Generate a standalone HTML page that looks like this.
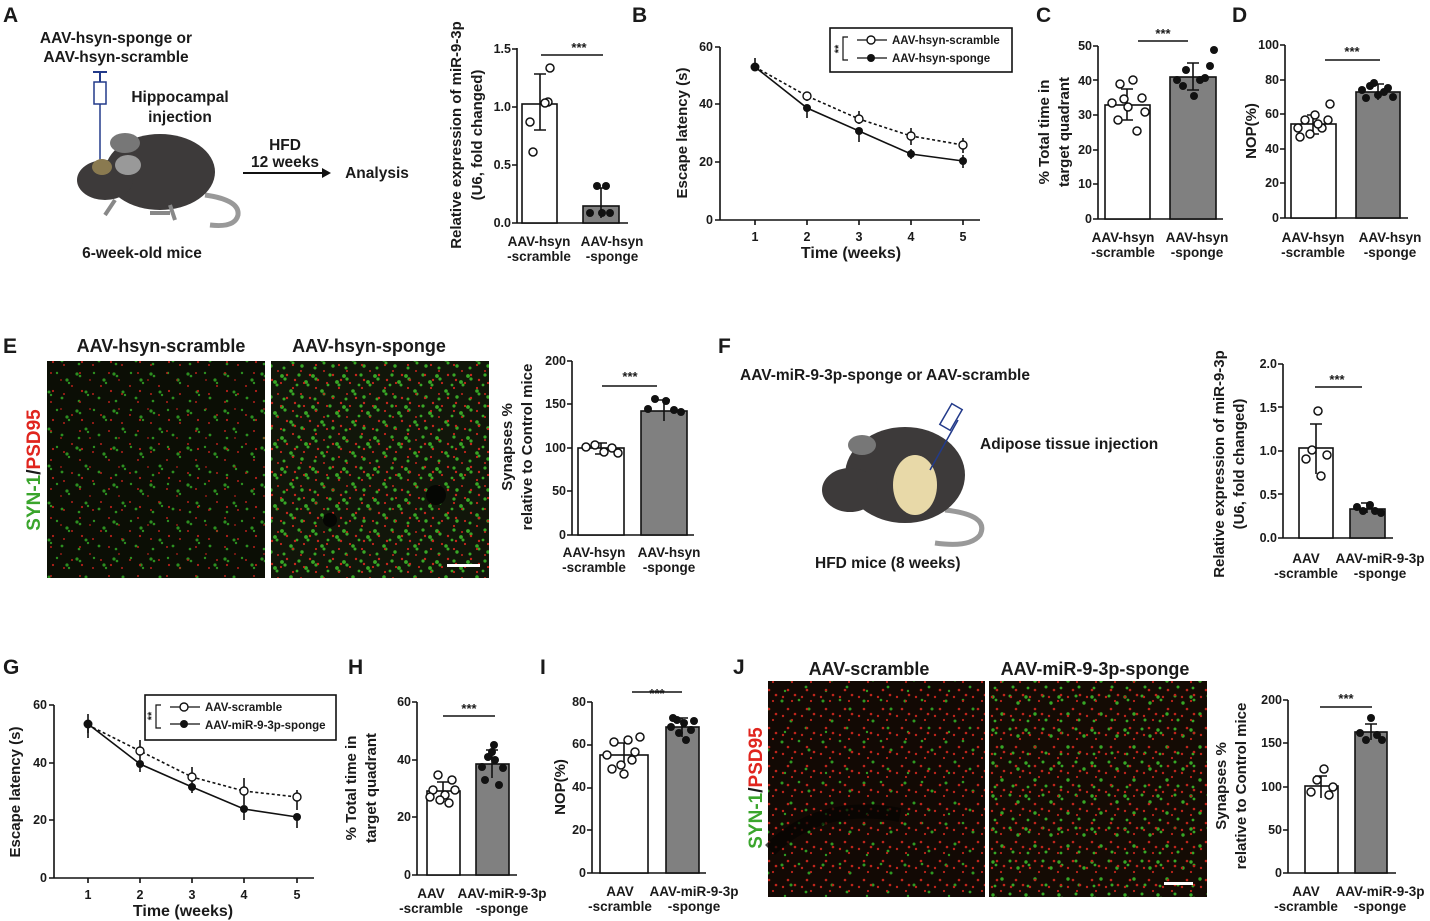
<!DOCTYPE html><html><head><style>body{margin:0;background:#fff}svg{display:block}text{font-family:"Liberation Sans",Arial,sans-serif;font-weight:bold;fill:#1a1a1a}</style></head><body>
<svg width="1430" height="921" viewBox="0 0 1430 921" xmlns="http://www.w3.org/2000/svg">
<defs>
<pattern id="g1" width="37" height="37" patternUnits="userSpaceOnUse">
<g fill="#2c8f20"><circle cx="3" cy="4" r="1.6"/><circle cx="6" cy="6" r="1.3"/><circle cx="20" cy="3" r="1.2"/><circle cx="30" cy="10" r="1.6"/><circle cx="32" cy="13" r="1.2"/><circle cx="12" cy="22" r="1.5"/><circle cx="14" cy="25" r="1.2"/><circle cx="25" cy="28" r="1.4"/><circle cx="5" cy="31" r="1.3"/></g>
</pattern>
<pattern id="r1" width="29" height="29" patternUnits="userSpaceOnUse">
<g fill="#b52019"><circle cx="14" cy="9" r="1"/><circle cx="24" cy="14" r="1.1"/><circle cx="6" cy="17" r="1"/><circle cx="22" cy="25" r="1"/><circle cx="3" cy="3" r="0.9"/></g>
</pattern>
<pattern id="g2" width="31" height="31" patternUnits="userSpaceOnUse">
<g fill="#38a826"><circle cx="3" cy="4" r="1.9"/><circle cx="6" cy="7" r="1.6"/><circle cx="20" cy="3" r="1.6"/><circle cx="27" cy="10" r="1.9"/><circle cx="29" cy="13" r="1.5"/><circle cx="12" cy="19" r="1.8"/><circle cx="14" cy="22" r="1.5"/><circle cx="23" cy="25" r="1.7"/><circle cx="5" cy="27" r="1.5"/><circle cx="18" cy="13" r="1.4"/></g>
</pattern>
<pattern id="r2" width="23" height="23" patternUnits="userSpaceOnUse">
<g fill="#c8261c"><circle cx="11" cy="7" r="1.2"/><circle cx="19" cy="12" r="1.2"/><circle cx="5" cy="15" r="1.1"/><circle cx="17" cy="20" r="1.1"/><circle cx="2" cy="3" r="1"/></g>
</pattern>
<pattern id="r3" width="19" height="19" patternUnits="userSpaceOnUse">
<g fill="#c0251b"><circle cx="9" cy="6" r="1.3"/><circle cx="16" cy="11" r="1.3"/><circle cx="4" cy="13" r="1.2"/><circle cx="13" cy="17" r="1.1"/></g>
</pattern>
<pattern id="g3" width="41" height="41" patternUnits="userSpaceOnUse">
<g fill="#2e9a22"><circle cx="3" cy="4" r="1.5"/><circle cx="20" cy="3" r="1.3"/><circle cx="30" cy="12" r="1.5"/><circle cx="12" cy="24" r="1.5"/><circle cx="27" cy="31" r="1.4"/><circle cx="6" cy="35" r="1.2"/></g>
</pattern>
<pattern id="g4" width="33" height="33" patternUnits="userSpaceOnUse">
<g fill="#36a826"><circle cx="3" cy="4" r="1.7"/><circle cx="6" cy="7" r="1.4"/><circle cx="20" cy="3" r="1.5"/><circle cx="28" cy="10" r="1.7"/><circle cx="12" cy="21" r="1.7"/><circle cx="23" cy="27" r="1.5"/><circle cx="5" cy="28" r="1.4"/></g>
</pattern>
</defs>

<g font-size="21"><text x="3" y="22">A</text><text x="632" y="22">B</text><text x="1036" y="22">C</text><text x="1232" y="22">D</text><text x="3" y="353">E</text><text x="718" y="353">F</text><text x="3" y="674">G</text><text x="348" y="674">H</text><text x="540" y="674">I</text><text x="733" y="674">J</text></g>

<!-- A schematic -->
<g font-size="15.5" text-anchor="middle"><text x="116" y="43">AAV-hsyn-sponge or</text><text x="116" y="62">AAV-hsyn-scramble</text><text x="180" y="102">Hippocampal</text><text x="180" y="122">injection</text><text x="285" y="150">HFD</text><text x="285" y="167">12 weeks</text><text x="377" y="178">Analysis</text><text x="142" y="258">6-week-old mice</text></g>
<line x1="243" y1="173" x2="324" y2="173" stroke="#111" stroke-width="2"/><path d="M322 168 L331 173 L322 178Z" fill="#111"/>
<g>
<line x1="100" y1="100" x2="100" y2="160" stroke="#223a8a" stroke-width="1.5"/>
<rect x="94" y="82" width="12" height="22" fill="#fff" stroke="#223a8a" stroke-width="1.5"/><line x1="100" y1="72" x2="100" y2="82" stroke="#223a8a" stroke-width="2"/><line x1="93" y1="72" x2="107" y2="72" stroke="#223a8a" stroke-width="2"/>
<path d="M205 195 Q240 200 238 215 Q235 228 210 225" fill="none" stroke="#999" stroke-width="5"/>
<ellipse cx="160" cy="172" rx="55" ry="38" fill="#3d3a3a"/>
<ellipse cx="105" cy="180" rx="28" ry="20" fill="#3d3a3a"/>
<ellipse cx="125" cy="143" rx="15" ry="10" fill="#777"/>
<ellipse cx="128" cy="165" rx="13" ry="10" fill="#999"/>
<ellipse cx="102" cy="167" rx="10" ry="8" fill="#8a7a50"/>
<path d="M115 200 l-10 15 M170 205 l5 15 M150 213 l20 0" stroke="#888" stroke-width="4"/>
</g>

<!-- A chart -->
<g font-size="12.5" text-anchor="end"><text x="511" y="227">0.0</text><text x="511" y="169">0.5</text><text x="511" y="111">1.0</text><text x="511" y="53">1.5</text></g>
<g stroke="#111" stroke-width="1.6" fill="none">
<path d="M517 48V223H628M512 223H517M512 165H517M512 107H517M512 49H517"/>
<rect x="522" y="104" width="35" height="119" fill="#fff"/><rect x="583" y="206" width="36" height="17" fill="#808080"/>
<path d="M540 74V130M534 74H546M534 130H546M601 188V218M595 188H607"/>
<path d="M541 55H603"/></g>
<g fill="#fff" stroke="#111" stroke-width="1.5"><circle cx="530" cy="122" r="4"/><circle cx="548" cy="102" r="4"/><circle cx="550" cy="68" r="4"/><circle cx="533" cy="152" r="4"/><circle cx="545" cy="103" r="4"/></g>
<g fill="#111"><circle cx="590" cy="213" r="4"/><circle cx="597" cy="186" r="4"/><circle cx="606" cy="186" r="4"/><circle cx="610" cy="213" r="4"/><circle cx="602" cy="213" r="4"/></g>
<text x="579" y="52" font-size="13" text-anchor="middle">***</text>
<g font-size="13.5" text-anchor="middle"><text x="539" y="246">AAV-hsyn</text><text x="539" y="261">-scramble</text><text x="612" y="246">AAV-hsyn</text><text x="612" y="261">-sponge</text></g>
<text transform="translate(461,135) rotate(-90)" font-size="15" text-anchor="middle">Relative expression of miR-9-3p</text>
<text transform="translate(482,135) rotate(-90)" font-size="15" text-anchor="middle">(U6, fold changed)</text>

<!-- B chart -->
<g font-size="12.5" text-anchor="end"><text x="713" y="224">0</text><text x="713" y="166">20</text><text x="713" y="108">40</text><text x="713" y="51">60</text></g>
<g font-size="12.5" text-anchor="middle"><text x="755" y="241">1</text><text x="807" y="241">2</text><text x="859" y="241">3</text><text x="911" y="241">4</text><text x="963" y="241">5</text></g>
<text x="851" y="258" font-size="16" text-anchor="middle">Time (weeks)</text>
<text transform="translate(687,133) rotate(-90)" font-size="15" text-anchor="middle">Escape latency (s)</text>
<g stroke="#111" stroke-width="1.6" fill="none">
<path d="M720 47V220H980M715 220H720M715 162H720M715 104H720M715 47H720M755 220V225M807 220V225M859 220V225M911 220V225M963 220V225"/>
<path d="M755 67V58M807 101V93M859 124V111M911 145V128M963 153V138"/>
<path d="M807 106V118M859 132V142M911 149V159M963 155V168"/>
<path d="M755 67L807 96L859 119L911 136L963 145" stroke-dasharray="3,2.5"/>
<path d="M755 67L807 108L859 131L911 154L963 161"/>
<rect x="830" y="28" width="182" height="44"/>
<path d="M848 37H843V60H848M857 40H887M857 58H887" stroke-width="1.2"/>
</g>
<g fill="#fff" stroke="#111" stroke-width="1.4"><circle cx="807" cy="96" r="4"/><circle cx="859" cy="119" r="4"/><circle cx="911" cy="136" r="4"/><circle cx="963" cy="145" r="4"/><circle cx="871" cy="40" r="4"/></g>
<g fill="#111"><circle cx="755" cy="67" r="4.5"/><circle cx="807" cy="108" r="4"/><circle cx="859" cy="131" r="4"/><circle cx="911" cy="154" r="4"/><circle cx="963" cy="161" r="4"/><circle cx="871" cy="58" r="4"/></g>
<text transform="translate(842,49) rotate(-90)" font-size="11" text-anchor="middle">**</text>
<g font-size="11.5"><text x="892" y="44">AAV-hsyn-scramble</text><text x="892" y="62">AAV-hsyn-sponge</text></g>

<!-- C chart -->
<g font-size="12.5" text-anchor="end"><text x="1092" y="223">0</text><text x="1092" y="188">10</text><text x="1092" y="154">20</text><text x="1092" y="119">30</text><text x="1092" y="85">40</text><text x="1092" y="50">50</text></g>
<g stroke="#111" stroke-width="1.6" fill="none">
<path d="M1098 46V219H1223M1093 219H1098M1093 184H1098M1093 150H1098M1093 115H1098M1093 80H1098M1093 46H1098"/>
<rect x="1105" y="105" width="45" height="114" fill="#fff"/><rect x="1170" y="77" width="46" height="142" fill="#808080"/>
<path d="M1127 89V120M1121 89H1133M1121 120H1133M1193 63V90M1187 63H1199M1187 90H1199M1138 41H1188"/></g>
<g fill="#fff" stroke="#111" stroke-width="1.5"><circle cx="1112" cy="103" r="4"/><circle cx="1120" cy="84" r="4"/><circle cx="1133" cy="80" r="4"/><circle cx="1142" cy="98" r="4"/><circle cx="1128" cy="107" r="4"/><circle cx="1118" cy="120" r="4"/><circle cx="1137" cy="131" r="4"/><circle cx="1145" cy="112" r="4"/><circle cx="1124" cy="99" r="4"/></g>
<g fill="#111"><circle cx="1177" cy="80" r="4"/><circle cx="1186" cy="70" r="4"/><circle cx="1200" cy="80" r="4"/><circle cx="1210" cy="66" r="4"/><circle cx="1194" cy="96" r="4"/><circle cx="1183" cy="86" r="4"/><circle cx="1205" cy="78" r="4"/><circle cx="1214" cy="50" r="4"/></g>
<text x="1163" y="38" font-size="13" text-anchor="middle">***</text>
<g font-size="13.5" text-anchor="middle"><text x="1123" y="242">AAV-hsyn</text><text x="1123" y="257">-scramble</text><text x="1197" y="242">AAV-hsyn</text><text x="1197" y="257">-sponge</text></g>
<text transform="translate(1049,132) rotate(-90)" font-size="15" text-anchor="middle">% Total time in</text>
<text transform="translate(1069,132) rotate(-90)" font-size="15" text-anchor="middle">target quadrant</text>

<!-- D chart -->
<g font-size="12.5" text-anchor="end"><text x="1279" y="222">0</text><text x="1279" y="187">20</text><text x="1279" y="153">40</text><text x="1279" y="118">60</text><text x="1279" y="84">80</text><text x="1279" y="49">100</text></g>
<g stroke="#111" stroke-width="1.6" fill="none">
<path d="M1285 45V218H1408M1280 218H1285M1280 183H1285M1280 149H1285M1280 114H1285M1280 80H1285M1280 45H1285"/>
<rect x="1291" y="124" width="45" height="94" fill="#fff"/><rect x="1356" y="92" width="44" height="126" fill="#808080"/>
<path d="M1313 115V134M1307 115H1319M1307 134H1319M1378 84V100M1372 84H1384M1325 60H1380"/></g>
<g fill="#fff" stroke="#111" stroke-width="1.5"><circle cx="1298" cy="128" r="4"/><circle cx="1305" cy="120" r="4"/><circle cx="1315" cy="115" r="4"/><circle cx="1330" cy="104" r="4"/><circle cx="1322" cy="128" r="4"/><circle cx="1310" cy="134" r="4"/><circle cx="1300" cy="137" r="4"/><circle cx="1328" cy="120" r="4"/><circle cx="1318" cy="124" r="4"/></g>
<g fill="#111"><circle cx="1362" cy="90" r="4"/><circle cx="1370" cy="86" r="4"/><circle cx="1378" cy="95" r="4"/><circle cx="1388" cy="88" r="4"/><circle cx="1393" cy="97" r="4"/><circle cx="1384" cy="92" r="4"/><circle cx="1374" cy="83" r="4"/><circle cx="1366" cy="98" r="4"/></g>
<text x="1352" y="56" font-size="13" text-anchor="middle">***</text>
<g font-size="13.5" text-anchor="middle"><text x="1313" y="242">AAV-hsyn</text><text x="1313" y="257">-scramble</text><text x="1390" y="242">AAV-hsyn</text><text x="1390" y="257">-sponge</text></g>
<text transform="translate(1256,131) rotate(-90)" font-size="15" text-anchor="middle">NOP(%)</text>

<!-- E -->
<g font-size="18" text-anchor="middle"><text x="161" y="352">AAV-hsyn-scramble</text><text x="369" y="352">AAV-hsyn-sponge</text></g>
<rect x="47" y="361" width="218" height="217" fill="#0b0e05"/>
<rect x="47" y="361" width="218" height="217" fill="url(#g1)"/>
<rect x="47" y="361" width="218" height="217" fill="url(#r1)"/>
<rect x="271" y="361" width="218" height="217" fill="#11160a"/>
<rect x="271" y="361" width="218" height="217" fill="url(#g2)"/>
<rect x="271" y="361" width="218" height="217" fill="url(#r2)"/>
<circle cx="436" cy="495" r="10" fill="#050603"/><circle cx="330" cy="520" r="7" fill="#050603"/>
<rect x="447" y="564" width="33" height="3" fill="#fff"/>
<text transform="translate(40,470) rotate(-90)" font-size="19" text-anchor="middle"><tspan style="fill:#3aa52c">SYN-1</tspan><tspan>/</tspan><tspan style="fill:#e0251e">PSD95</tspan></text>
<g font-size="12.5" text-anchor="end"><text x="566" y="539">0</text><text x="566" y="495">50</text><text x="566" y="452">100</text><text x="566" y="408">150</text><text x="566" y="365">200</text></g>
<g stroke="#111" stroke-width="1.6" fill="none">
<path d="M572 361V535H694M567 535H572M567 491H572M567 448H572M567 404H572M567 361H572"/>
<rect x="578" y="448" width="46" height="87" fill="#fff"/><rect x="641" y="411" width="46" height="124" fill="#808080"/>
<path d="M601 443V454M595 443H607M595 454H607M664 400V421M658 400H670M602 386H657"/></g>
<g fill="#fff" stroke="#111" stroke-width="1.5"><circle cx="586" cy="447" r="4"/><circle cx="595" cy="445" r="4"/><circle cx="604" cy="452" r="4"/><circle cx="612" cy="448" r="4"/><circle cx="618" cy="453" r="4"/></g>
<g fill="#111"><circle cx="648" cy="409" r="4"/><circle cx="655" cy="399" r="4"/><circle cx="666" cy="401" r="4"/><circle cx="674" cy="410" r="4"/><circle cx="681" cy="412" r="4"/></g>
<text x="630" y="381" font-size="13" text-anchor="middle">***</text>
<g font-size="13.5" text-anchor="middle"><text x="594" y="557">AAV-hsyn</text><text x="594" y="572">-scramble</text><text x="669" y="557">AAV-hsyn</text><text x="669" y="572">-sponge</text></g>
<text transform="translate(512,447) rotate(-90)" font-size="15" text-anchor="middle">Synapses %</text>
<text transform="translate(532,447) rotate(-90)" font-size="15" text-anchor="middle">relative to Control mice</text>

<!-- F schematic -->
<text x="740" y="380" font-size="15.5">AAV-miR-9-3p-sponge or AAV-scramble</text>
<text x="980" y="449" font-size="15.5">Adipose tissue injection</text>
<text x="815" y="568" font-size="15.5">HFD mice (8 weeks)</text>
<path d="M945 510 Q990 515 980 535 Q970 548 935 543" fill="none" stroke="#999" stroke-width="5"/>
<ellipse cx="905" cy="475" rx="60" ry="48" fill="#3d3a3a"/>
<ellipse cx="850" cy="490" rx="28" ry="22" fill="#3d3a3a"/>
<ellipse cx="862" cy="445" rx="14" ry="10" fill="#777"/>
<ellipse cx="915" cy="485" rx="22" ry="30" fill="#e8d9a8"/>
<line x1="930" y1="470" x2="958" y2="420" stroke="#223a8a" stroke-width="1.5"/>
<rect x="945" y="405" width="12" height="24" transform="rotate(30 951 417)" fill="#fff" stroke="#223a8a" stroke-width="1.5"/>
<!-- F chart -->
<g font-size="12.5" text-anchor="end"><text x="1277" y="542">0.0</text><text x="1277" y="499">0.5</text><text x="1277" y="455">1.0</text><text x="1277" y="412">1.5</text><text x="1277" y="368">2.0</text></g>
<g stroke="#111" stroke-width="1.6" fill="none">
<path d="M1283 364V538H1393M1278 538H1283M1278 494H1283M1278 451H1283M1278 407H1283M1278 364H1283"/>
<rect x="1299" y="448" width="34" height="90" fill="#fff"/><rect x="1350" y="509" width="35" height="29" fill="#808080"/>
<path d="M1316 424V474M1310 424H1322M1367 503V513M1361 503H1373M1315 387H1362"/></g>
<g fill="#fff" stroke="#111" stroke-width="1.5"><circle cx="1306" cy="459" r="4"/><circle cx="1312" cy="450" r="4"/><circle cx="1318" cy="411" r="4"/><circle cx="1321" cy="476" r="4"/><circle cx="1327" cy="455" r="4"/></g>
<g fill="#111"><circle cx="1357" cy="507" r="4"/><circle cx="1363" cy="511" r="4"/><circle cx="1370" cy="505" r="4"/><circle cx="1375" cy="511" r="4"/><circle cx="1381" cy="513" r="4"/></g>
<text x="1337" y="384" font-size="13" text-anchor="middle">***</text>
<g font-size="13.5" text-anchor="middle"><text x="1306" y="563">AAV</text><text x="1306" y="578">-scramble</text><text x="1380" y="563">AAV-miR-9-3p</text><text x="1380" y="578">-sponge</text></g>
<text transform="translate(1224,464) rotate(-90)" font-size="15" text-anchor="middle">Relative expression of miR-9-3p</text>
<text transform="translate(1244,464) rotate(-90)" font-size="15" text-anchor="middle">(U6, fold changed)</text>

<!-- G chart -->
<g font-size="12.5" text-anchor="end"><text x="47" y="882">0</text><text x="47" y="824">20</text><text x="47" y="767">40</text><text x="47" y="709">60</text></g>
<g font-size="12.5" text-anchor="middle"><text x="88" y="899">1</text><text x="140" y="899">2</text><text x="192" y="899">3</text><text x="244" y="899">4</text><text x="297" y="899">5</text></g>
<text x="183" y="916" font-size="16" text-anchor="middle">Time (weeks)</text>
<text transform="translate(20,792) rotate(-90)" font-size="15" text-anchor="middle">Escape latency (s)</text>
<g stroke="#111" stroke-width="1.6" fill="none">
<path d="M54 705V878H314M49 878H54M49 820H54M49 763H54M49 705H54M88 878V883M140 878V883M192 878V883M244 878V883M297 878V883"/>
<path d="M88 733V714M140 760V740M192 788V767M244 805V778M297 810V790"/>
<path d="M88 720V738M140 764V772M192 787V793M244 812V820M297 818V828"/>
<path d="M88 725L140 751L192 777L244 791L297 797" stroke-dasharray="3,2.5"/>
<path d="M88 724L140 764L192 787L244 809L297 817"/>
<rect x="145" y="695" width="191" height="45"/>
<path d="M161 705H156V728H161M170 707H200M170 724H200" stroke-width="1.2"/>
</g>
<g fill="#fff" stroke="#111" stroke-width="1.4"><circle cx="140" cy="751" r="4"/><circle cx="192" cy="777" r="4"/><circle cx="244" cy="791" r="4"/><circle cx="297" cy="797" r="4"/><circle cx="184" cy="707" r="4"/></g>
<g fill="#111"><circle cx="88" cy="724" r="4.5"/><circle cx="140" cy="764" r="4"/><circle cx="192" cy="787" r="4"/><circle cx="244" cy="809" r="4"/><circle cx="297" cy="817" r="4"/><circle cx="184" cy="724" r="4"/></g>
<text transform="translate(155,716) rotate(-90)" font-size="11" text-anchor="middle">**</text>
<g font-size="11.5"><text x="205" y="711">AAV-scramble</text><text x="205" y="729">AAV-miR-9-3p-sponge</text></g>

<!-- H chart -->
<g font-size="12.5" text-anchor="end"><text x="411" y="879">0</text><text x="411" y="821">20</text><text x="411" y="764">40</text><text x="411" y="706">60</text></g>
<g stroke="#111" stroke-width="1.6" fill="none">
<path d="M417 702V875H517M412 875H417M412 817H417M412 760H417M412 702H417"/>
<rect x="427" y="791" width="33" height="84" fill="#fff"/><rect x="476" y="764" width="33" height="111" fill="#808080"/>
<path d="M443 782V800M437 782H449M492 750V778M486 750H498M443 716H495"/></g>
<g fill="#fff" stroke="#111" stroke-width="1.5"><circle cx="433" cy="790" r="4"/><circle cx="438" cy="775" r="4"/><circle cx="445" cy="795" r="4"/><circle cx="452" cy="780" r="4"/><circle cx="449" cy="803" r="4"/><circle cx="440" cy="800" r="4"/><circle cx="455" cy="790" r="4"/><circle cx="430" cy="797" r="4"/></g>
<g fill="#111"><circle cx="482" cy="767" r="4"/><circle cx="488" cy="757" r="4"/><circle cx="495" cy="760" r="4"/><circle cx="503" cy="768" r="4"/><circle cx="492" cy="752" r="4"/><circle cx="499" cy="785" r="4"/><circle cx="485" cy="780" r="4"/><circle cx="494" cy="745" r="4"/></g>
<text x="469" y="713" font-size="13" text-anchor="middle">***</text>
<g font-size="13.5" text-anchor="middle"><text x="431" y="898">AAV</text><text x="431" y="913">-scramble</text><text x="502" y="898">AAV-miR-9-3p</text><text x="502" y="913">-sponge</text></g>
<text transform="translate(356,788) rotate(-90)" font-size="15" text-anchor="middle">% Total time in</text>
<text transform="translate(376,788) rotate(-90)" font-size="15" text-anchor="middle">target quadrant</text>

<!-- I chart -->
<g font-size="12.5" text-anchor="end"><text x="586" y="877">0</text><text x="586" y="834">20</text><text x="586" y="791">40</text><text x="586" y="748">60</text><text x="586" y="706">80</text></g>
<g stroke="#111" stroke-width="1.6" fill="none">
<path d="M592 702V873H706M587 873H592M587 830H592M587 788H592M587 745H592M587 702H592"/>
<rect x="600" y="755" width="48" height="118" fill="#fff"/><rect x="666" y="727" width="33" height="146" fill="#808080"/>
<path d="M624 743V768M618 743H630M682 718V737M676 718H688M632 692H682"/></g>
<g fill="#fff" stroke="#111" stroke-width="1.5"><circle cx="607" cy="755" r="4"/><circle cx="614" cy="742" r="4"/><circle cx="621" cy="765" r="4"/><circle cx="628" cy="740" r="4"/><circle cx="635" cy="752" r="4"/><circle cx="640" cy="737" r="4"/><circle cx="624" cy="774" r="4"/><circle cx="612" cy="769" r="4"/><circle cx="632" cy="760" r="4"/></g>
<g fill="#111"><circle cx="671" cy="727" r="4"/><circle cx="677" cy="720" r="4"/><circle cx="684" cy="723" r="4"/><circle cx="691" cy="730" r="4"/><circle cx="686" cy="740" r="4"/><circle cx="679" cy="733" r="4"/><circle cx="694" cy="721" r="4"/><circle cx="673" cy="718" r="4"/></g>
<text x="657" y="698" font-size="13" text-anchor="middle">***</text>
<g font-size="13.5" text-anchor="middle"><text x="620" y="896">AAV</text><text x="620" y="911">-scramble</text><text x="694" y="896">AAV-miR-9-3p</text><text x="694" y="911">-sponge</text></g>
<text transform="translate(565,787) rotate(-90)" font-size="15" text-anchor="middle">NOP(%)</text>

<!-- J -->
<g font-size="18" text-anchor="middle"><text x="869" y="675">AAV-scramble</text><text x="1095" y="675">AAV-miR-9-3p-sponge</text></g>
<rect x="768" y="681" width="217" height="216" fill="#120904"/>
<rect x="768" y="681" width="217" height="216" fill="url(#g3)"/>
<rect x="768" y="681" width="217" height="216" fill="url(#r3)"/>
<rect x="989" y="681" width="218" height="216" fill="#140b04"/>
<rect x="989" y="681" width="218" height="216" fill="url(#g4)"/>
<rect x="989" y="681" width="218" height="216" fill="url(#r3)"/>
<path d="M770 850 Q820 800 900 815" stroke="#060402" stroke-width="14" fill="none" opacity="0.7"/>
<rect x="1164" y="882" width="29" height="3" fill="#fff"/>
<text transform="translate(762,788) rotate(-90)" font-size="19" text-anchor="middle"><tspan style="fill:#3aa52c">SYN-1</tspan><tspan>/</tspan><tspan style="fill:#e0251e">PSD95</tspan></text>
<g font-size="12.5" text-anchor="end"><text x="1282" y="877">0</text><text x="1282" y="834">50</text><text x="1282" y="791">100</text><text x="1282" y="747">150</text><text x="1282" y="704">200</text></g>
<g stroke="#111" stroke-width="1.6" fill="none">
<path d="M1288 700V873H1396M1283 873H1288M1283 830H1288M1283 787H1288M1283 743H1288M1283 700H1288"/>
<rect x="1305" y="786" width="33" height="87" fill="#fff"/><rect x="1355" y="732" width="32" height="141" fill="#808080"/>
<path d="M1321 776V798M1315 776H1327M1371 724V740M1365 724H1377M1320 707H1372"/></g>
<g fill="#fff" stroke="#111" stroke-width="1.5"><circle cx="1311" cy="792" r="4"/><circle cx="1317" cy="780" r="4"/><circle cx="1324" cy="769" r="4"/><circle cx="1329" cy="795" r="4"/><circle cx="1333" cy="787" r="4"/></g>
<g fill="#111"><circle cx="1360" cy="733" r="4"/><circle cx="1366" cy="740" r="4"/><circle cx="1371" cy="718" r="4"/><circle cx="1377" cy="735" r="4"/><circle cx="1382" cy="740" r="4"/></g>
<text x="1346" y="703" font-size="13" text-anchor="middle">***</text>
<g font-size="13.5" text-anchor="middle"><text x="1306" y="896">AAV</text><text x="1306" y="911">-scramble</text><text x="1380" y="896">AAV-miR-9-3p</text><text x="1380" y="911">-sponge</text></g>
<text transform="translate(1226,786) rotate(-90)" font-size="15" text-anchor="middle">Synapses %</text>
<text transform="translate(1246,786) rotate(-90)" font-size="15" text-anchor="middle">relative to Control mice</text>
</svg>
</body></html>
